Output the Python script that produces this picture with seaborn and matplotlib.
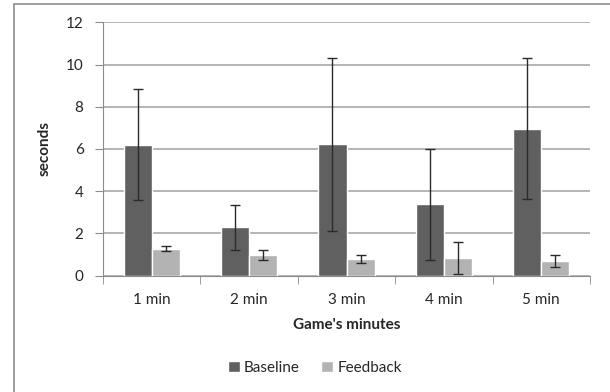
import matplotlib
matplotlib.use("Agg")
import matplotlib.pyplot as plt
import seaborn as sns
import pandas as pd
from matplotlib.patches import Rectangle

# dati
minutes = ["1 min", "2 min", "3 min", "4 min", "5 min"]
baseline = [6.2, 2.28, 6.23, 3.38, 6.96]
baseline_err = [2.62, 1.05, 4.1, 2.63, 3.33]
feedback = [1.26, 0.98, 0.78, 0.84, 0.68]
feedback_err = [0.12, 0.24, 0.19, 0.75, 0.3]

df = pd.DataFrame({
    "minute": minutes * 2,
    "value": baseline + feedback,
    "err": baseline_err + feedback_err,
    "group": ["Baseline"] * 5 + ["Feedback"] * 5,
})

sns.set_style("white")
plt.rcParams["font.family"] = ["Lato", "DejaVu Sans"]

fig = plt.figure(figsize=(6.1, 3.92), dpi=100)
ax = fig.add_axes([103 / 610, 1 - 275.5 / 392, (590 - 103) / 610, (275.5 - 22.3) / 392])

# bordo esterno del grafico
fig.patches.append(Rectangle((14 / 610, -0.1), 1.2, 1 - 4 / 392 + 0.1, transform=fig.transFigure,
                             fill=False, edgecolor="#8c8c8c", linewidth=1.2))

sns.barplot(data=df, x="minute", y="value", hue="group", order=minutes,
            palette={"Baseline": "#606060", "Feedback": "#b3b3b3"},
            width=0.575, gap=0, errorbar=None, saturation=1, ax=ax, zorder=3, legend=True)

# barre di errore sui rettangoli
for bars, grp in zip(ax.containers, ["Baseline", "Feedback"]):
    sub = df[df["group"] == grp]
    xs = [b.get_x() + b.get_width() / 2 for b in bars]
    ax.errorbar(xs, sub["value"].values, yerr=sub["err"].values, fmt="none",
                ecolor="#2a2a2a", elinewidth=1, capsize=3.5, capthick=1, zorder=4)

ax.set_ylim(0, 12)
ax.set_xlim(-0.5, 4.5)
ax.set_yticks(range(0, 13, 2))
ax.yaxis.grid(True, color="#a0a0a0", linewidth=1.1)
ax.set_axisbelow(True)
for s in ["top", "right"]:
    ax.spines[s].set_visible(False)
ax.spines["left"].set_color("#8c8c8c")
ax.spines["bottom"].set_color("#8c8c8c")

ax.tick_params(axis="y", which="both", left=True, length=6, color="#8c8c8c", labelsize=11, pad=8)
ax.set_xticks(range(5))
ax.set_xticklabels(minutes, fontsize=11)
ax.tick_params(axis="x", which="major", bottom=False, pad=9)
ax.set_xticks([i - 0.5 for i in range(6)], minor=True)
ax.tick_params(axis="x", which="minor", bottom=True, length=6, color="#8c8c8c")

ax.set_xlabel("Game's minutes", fontsize=11, fontweight="bold", labelpad=8)
ax.set_ylabel("seconds", fontsize=11, fontweight="bold", labelpad=10)

ax.legend(loc="center", bbox_to_anchor=(315 / 610, 1 - 368 / 392), bbox_transform=fig.transFigure,
          ncol=2, frameon=False, fontsize=11, handlelength=0.75, handleheight=0.75,
          handletextpad=0.3, columnspacing=1.4)

fig.savefig("out.png", dpi=100)
